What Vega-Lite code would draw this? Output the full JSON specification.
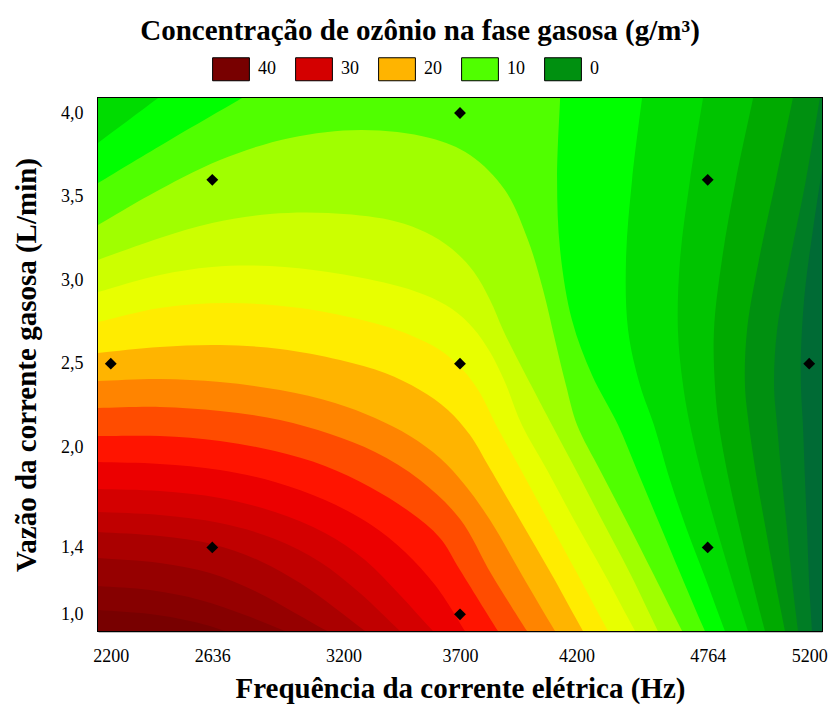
{
  "$schema": "https://vega.github.io/schema/vega-lite/v6.json",
  "width": 724,
  "height": 533,
  "autosize": {"type": "none"},
  "padding": {"left": 98, "top": 98, "right": 12, "bottom": 86},
  "background": "white",
  "title": {
    "text": "Concentração de ozônio na fase gasosa (g/m³)",
    "anchor": "middle",
    "frame": "group",
    "dx": -40,
    "offset": 11,
    "font": "Liberation Serif",
    "fontSize": 29,
    "fontWeight": "bold",
    "color": "black"
  },
  "encoding": {
    "x": {
      "field": "f",
      "type": "quantitative",
      "scale": {"domain": [2145, 5255], "nice": false, "zero": false},
      "axis": {
        "title": "Frequência da corrente elétrica (Hz)",
        "values": [2200, 2636, 3200, 3700, 4200, 4764, 5200],
        "format": "d",
        "labelFlush": false,
        "labelPadding": 21,
        "titlePadding": 9
      }
    },
    "y": {
      "field": "q",
      "type": "quantitative",
      "scale": {"domain": [0.9, 4.09], "nice": false, "zero": false},
      "axis": {
        "title": "Vazão da corrente gasosa (L/min)",
        "values": [1, 1.4, 2, 2.5, 3, 3.5, 4],
        "labelExpr": "replace(format(datum.value, '.1f'), '.', ',')",
        "labelPadding": 20,
        "titlePadding": 19
      }
    }
  },
  "layer": [
    {
      "data": {"values": [{"lab": "40"}, {"lab": "30"}, {"lab": "20"}, {"lab": "10"}, {"lab": "0"}]},
      "mark": {"type": "point", "shape": "square", "filled": true, "opacity": 0},
      "encoding": {
        "fill": {
          "field": "lab",
          "type": "ordinal",
          "scale": {"domain": ["40", "30", "20", "10", "0"], "range": ["#780000", "#d40000", "#ffb400", "#50ff00", "#009010"]},
          "legend": {
            "orient": "none",
            "legendX": 121,
            "legendY": -41,
            "direction": "horizontal",
            "title": null,
            "symbolType": "M-1.6,-1H1.6V1H-1.6Z",
            "symbolSize": 529,
            "symbolStrokeColor": "black",
            "symbolStrokeWidth": 1,
            "symbolOpacity": 1,
            "labelFont": "Liberation Serif",
            "labelFontSize": 18,
            "labelColor": "black",
            "labelOffset": 15,
            "columnPadding": 17,
            "padding": 0
          }
        }
      }
    },
    {
      "data": {"values": [
        {"c":"b00","i":0,"f":1939,"q":4.377},{"c":"b00","i":1,"f":5418,"q":4.377},{"c":"b00","i":2,"f":5418,"q":0.607},{"c":"b00","i":3,"f":1939,"q":0.607},
        {"c":"b01","i":0,"f":1939,"q":4.377},{"c":"b01","i":1,"f":5285,"q":4.377},{"c":"b01","i":2,"f":5285,"q":3.947},{"c":"b01","i":3,"f":5272,"q":3.803},{"c":"b01","i":4,"f":5255,"q":3.659},{"c":"b01","i":5,"f":5216,"q":3.3},{"c":"b01","i":6,"f":5182,"q":2.941},{"c":"b01","i":7,"f":5165,"q":2.582},{"c":"b01","i":8,"f":5165,"q":2.342},{"c":"b01","i":9,"f":5173,"q":2.133},{"c":"b01","i":10,"f":5182,"q":1.804},{"c":"b01","i":11,"f":5191,"q":1.505},{"c":"b01","i":12,"f":5199,"q":1.205},{"c":"b01","i":13,"f":5212,"q":0.9},{"c":"b01","i":14,"f":5218,"q":0.756},{"c":"b01","i":15,"f":5225,"q":0.607},{"c":"b01","i":16,"f":1939,"q":0.607},
        {"c":"b02","i":0,"f":1939,"q":4.377},{"c":"b02","i":1,"f":5281,"q":4.377},{"c":"b02","i":2,"f":5264,"q":4.234},{"c":"b02","i":3,"f":5246,"q":4.09},{"c":"b02","i":4,"f":5186,"q":3.599},{"c":"b02","i":5,"f":5117,"q":3.121},{"c":"b02","i":6,"f":5062,"q":2.702},{"c":"b02","i":7,"f":5049,"q":2.372},{"c":"b02","i":8,"f":5062,"q":2.133},{"c":"b02","i":9,"f":5083,"q":1.804},{"c":"b02","i":10,"f":5105,"q":1.505},{"c":"b02","i":11,"f":5126,"q":1.205},{"c":"b02","i":12,"f":5152,"q":0.9},{"c":"b02","i":13,"f":5165,"q":0.756},{"c":"b02","i":14,"f":5178,"q":0.607},{"c":"b02","i":15,"f":1939,"q":0.607},
        {"c":"b03","i":0,"f":1939,"q":4.377},{"c":"b03","i":1,"f":5173,"q":4.377},{"c":"b03","i":2,"f":5152,"q":4.234},{"c":"b03","i":3,"f":5130,"q":4.09},{"c":"b03","i":4,"f":5057,"q":3.599},{"c":"b03","i":5,"f":4984,"q":3.121},{"c":"b03","i":6,"f":4933,"q":2.702},{"c":"b03","i":7,"f":4924,"q":2.372},{"c":"b03","i":8,"f":4941,"q":2.133},{"c":"b03","i":9,"f":4976,"q":1.804},{"c":"b03","i":10,"f":5014,"q":1.505},{"c":"b03","i":11,"f":5053,"q":1.205},{"c":"b03","i":12,"f":5096,"q":0.9},{"c":"b03","i":13,"f":5117,"q":0.756},{"c":"b03","i":14,"f":5139,"q":0.607},{"c":"b03","i":15,"f":1939,"q":0.607},
        {"c":"b04","i":0,"f":1939,"q":4.377},{"c":"b04","i":1,"f":5002,"q":4.377},{"c":"b04","i":2,"f":4980,"q":4.234},{"c":"b04","i":3,"f":4959,"q":4.09},{"c":"b04","i":4,"f":4885,"q":3.599},{"c":"b04","i":5,"f":4825,"q":3.121},{"c":"b04","i":6,"f":4791,"q":2.702},{"c":"b04","i":7,"f":4795,"q":2.372},{"c":"b04","i":8,"f":4812,"q":2.133},{"c":"b04","i":9,"f":4855,"q":1.804},{"c":"b04","i":10,"f":4903,"q":1.505},{"c":"b04","i":11,"f":4954,"q":1.205},{"c":"b04","i":12,"f":5010,"q":0.9},{"c":"b04","i":13,"f":5038,"q":0.756},{"c":"b04","i":14,"f":5066,"q":0.607},{"c":"b04","i":15,"f":1939,"q":0.607},
        {"c":"b05","i":0,"f":1939,"q":4.377},{"c":"b05","i":1,"f":4778,"q":4.377},{"c":"b05","i":2,"f":4761,"q":4.234},{"c":"b05","i":3,"f":4744,"q":4.09},{"c":"b05","i":4,"f":4688,"q":3.599},{"c":"b05","i":5,"f":4645,"q":3.121},{"c":"b05","i":6,"f":4636,"q":2.702},{"c":"b05","i":7,"f":4658,"q":2.372},{"c":"b05","i":8,"f":4688,"q":2.133},{"c":"b05","i":9,"f":4744,"q":1.804},{"c":"b05","i":10,"f":4804,"q":1.505},{"c":"b05","i":11,"f":4868,"q":1.205},{"c":"b05","i":12,"f":4937,"q":0.9},{"c":"b05","i":13,"f":4971,"q":0.756},{"c":"b05","i":14,"f":5006,"q":0.607},{"c":"b05","i":15,"f":1939,"q":0.607},
        {"c":"b06","i":0,"f":2025,"q":3.695},{"c":"b06","i":1,"f":2145,"q":3.821},{"c":"b06","i":2,"f":2403,"q":4.09},{"c":"b06","i":3,"f":2540,"q":4.234},{"c":"b06","i":4,"f":2678,"q":4.377},{"c":"b06","i":5,"f":4508,"q":4.377},{"c":"b06","i":6,"f":4495,"q":4.234},{"c":"b06","i":7,"f":4482,"q":4.09},{"c":"b06","i":8,"f":4439,"q":3.599},{"c":"b06","i":9,"f":4413,"q":3.121},{"c":"b06","i":10,"f":4422,"q":2.702},{"c":"b06","i":11,"f":4473,"q":2.372},{"c":"b06","i":12,"f":4533,"q":2.133},{"c":"b06","i":13,"f":4602,"q":1.804},{"c":"b06","i":14,"f":4675,"q":1.505},{"c":"b06","i":15,"f":4757,"q":1.205},{"c":"b06","i":16,"f":4838,"q":0.9},{"c":"b06","i":17,"f":4879,"q":0.756},{"c":"b06","i":18,"f":4920,"q":0.607},{"c":"b06","i":19,"f":1939,"q":0.607},
        {"c":"b07","i":0,"f":2025,"q":3.48},{"c":"b07","i":1,"f":2145,"q":3.581},{"c":"b07","i":2,"f":2454,"q":3.839},{"c":"b07","i":3,"f":2764,"q":4.09},{"c":"b07","i":4,"f":2940,"q":4.234},{"c":"b07","i":5,"f":3116,"q":4.377},{"c":"b07","i":6,"f":4138,"q":4.377},{"c":"b07","i":7,"f":4134,"q":4.234},{"c":"b07","i":8,"f":4130,"q":4.09},{"c":"b07","i":9,"f":4117,"q":3.599},{"c":"b07","i":10,"f":4130,"q":3.18},{"c":"b07","i":11,"f":4181,"q":2.761},{"c":"b07","i":12,"f":4267,"q":2.432},{"c":"b07","i":13,"f":4379,"q":2.133},{"c":"b07","i":14,"f":4460,"q":1.864},{"c":"b07","i":15,"f":4550,"q":1.564},{"c":"b07","i":16,"f":4649,"q":1.235},{"c":"b07","i":17,"f":4752,"q":0.9},{"c":"b07","i":18,"f":4800,"q":0.756},{"c":"b07","i":19,"f":4847,"q":0.607},{"c":"b07","i":20,"f":1939,"q":0.607},
        {"c":"b08","i":0,"f":2025,"q":3.234},{"c":"b08","i":1,"f":2145,"q":3.33},{"c":"b08","i":2,"f":2368,"q":3.51},{"c":"b08","i":3,"f":2669,"q":3.719},{"c":"b08","i":4,"f":2970,"q":3.851},{"c":"b08","i":5,"f":3279,"q":3.899},{"c":"b08","i":6,"f":3571,"q":3.851},{"c":"b08","i":7,"f":3743,"q":3.749},{"c":"b08","i":8,"f":3893,"q":3.539},{"c":"b08","i":9,"f":3992,"q":3.24},{"c":"b08","i":10,"f":4057,"q":2.941},{"c":"b08","i":11,"f":4108,"q":2.642},{"c":"b08","i":12,"f":4155,"q":2.372},{"c":"b08","i":13,"f":4203,"q":2.133},{"c":"b08","i":14,"f":4301,"q":1.864},{"c":"b08","i":15,"f":4413,"q":1.564},{"c":"b08","i":16,"f":4533,"q":1.235},{"c":"b08","i":17,"f":4654,"q":0.9},{"c":"b08","i":18,"f":4709,"q":0.756},{"c":"b08","i":19,"f":4761,"q":0.607},{"c":"b08","i":20,"f":1939,"q":0.607},
        {"c":"b09","i":0,"f":2025,"q":3.061},{"c":"b09","i":1,"f":2145,"q":3.121},{"c":"b09","i":2,"f":2411,"q":3.252},{"c":"b09","i":3,"f":2635,"q":3.342},{"c":"b09","i":4,"f":2884,"q":3.396},{"c":"b09","i":5,"f":3133,"q":3.402},{"c":"b09","i":6,"f":3399,"q":3.36},{"c":"b09","i":7,"f":3550,"q":3.288},{"c":"b09","i":8,"f":3666,"q":3.186},{"c":"b09","i":9,"f":3760,"q":3.049},{"c":"b09","i":10,"f":3829,"q":2.881},{"c":"b09","i":11,"f":3885,"q":2.702},{"c":"b09","i":12,"f":3949,"q":2.522},{"c":"b09","i":13,"f":4005,"q":2.372},{"c":"b09","i":14,"f":4095,"q":2.133},{"c":"b09","i":15,"f":4198,"q":1.864},{"c":"b09","i":16,"f":4310,"q":1.564},{"c":"b09","i":17,"f":4434,"q":1.235},{"c":"b09","i":18,"f":4550,"q":0.9},{"c":"b09","i":19,"f":4602,"q":0.756},{"c":"b09","i":20,"f":4658,"q":0.607},{"c":"b09","i":21,"f":1939,"q":0.607},
        {"c":"b10","i":0,"f":2025,"q":2.881},{"c":"b10","i":1,"f":2145,"q":2.929},{"c":"b10","i":2,"f":2411,"q":3.031},{"c":"b10","i":3,"f":2635,"q":3.079},{"c":"b10","i":4,"f":2884,"q":3.085},{"c":"b10","i":5,"f":3133,"q":3.049},{"c":"b10","i":6,"f":3399,"q":2.977},{"c":"b10","i":7,"f":3550,"q":2.911},{"c":"b10","i":8,"f":3666,"q":2.827},{"c":"b10","i":9,"f":3756,"q":2.714},{"c":"b10","i":10,"f":3829,"q":2.57},{"c":"b10","i":11,"f":3893,"q":2.39},{"c":"b10","i":12,"f":3966,"q":2.133},{"c":"b10","i":13,"f":4074,"q":1.864},{"c":"b10","i":14,"f":4190,"q":1.564},{"c":"b10","i":15,"f":4323,"q":1.235},{"c":"b10","i":16,"f":4452,"q":0.9},{"c":"b10","i":17,"f":4512,"q":0.756},{"c":"b10","i":18,"f":4568,"q":0.607},{"c":"b10","i":19,"f":1939,"q":0.607},
        {"c":"b11","i":0,"f":2025,"q":2.714},{"c":"b11","i":1,"f":2145,"q":2.749},{"c":"b11","i":2,"f":2411,"q":2.833},{"c":"b11","i":3,"f":2703,"q":2.863},{"c":"b11","i":4,"f":3013,"q":2.833},{"c":"b11","i":5,"f":3313,"q":2.749},{"c":"b11","i":6,"f":3485,"q":2.672},{"c":"b11","i":7,"f":3614,"q":2.582},{"c":"b11","i":8,"f":3713,"q":2.462},{"c":"b11","i":9,"f":3786,"q":2.325},{"c":"b11","i":10,"f":3855,"q":2.133},{"c":"b11","i":11,"f":3962,"q":1.864},{"c":"b11","i":12,"f":4078,"q":1.564},{"c":"b11","i":13,"f":4207,"q":1.235},{"c":"b11","i":14,"f":4336,"q":0.9},{"c":"b11","i":15,"f":4396,"q":0.756},{"c":"b11","i":16,"f":4452,"q":0.607},{"c":"b11","i":17,"f":1939,"q":0.607},
        {"c":"b12","i":0,"f":2025,"q":2.546},{"c":"b12","i":1,"f":2145,"q":2.564},{"c":"b12","i":2,"f":2411,"q":2.6},{"c":"b12","i":3,"f":2669,"q":2.612},{"c":"b12","i":4,"f":2927,"q":2.588},{"c":"b12","i":5,"f":3185,"q":2.522},{"c":"b12","i":6,"f":3378,"q":2.444},{"c":"b12","i":7,"f":3528,"q":2.342},{"c":"b12","i":8,"f":3648,"q":2.223},{"c":"b12","i":9,"f":3743,"q":2.073},{"c":"b12","i":10,"f":3820,"q":1.894},{"c":"b12","i":11,"f":3958,"q":1.564},{"c":"b12","i":12,"f":4095,"q":1.235},{"c":"b12","i":13,"f":4228,"q":0.9},{"c":"b12","i":14,"f":4288,"q":0.756},{"c":"b12","i":15,"f":4349,"q":0.607},{"c":"b12","i":16,"f":1939,"q":0.607},
        {"c":"b13","i":0,"f":2025,"q":2.39},{"c":"b13","i":1,"f":2145,"q":2.396},{"c":"b13","i":2,"f":2411,"q":2.408},{"c":"b13","i":3,"f":2669,"q":2.39},{"c":"b13","i":4,"f":2927,"q":2.342},{"c":"b13","i":5,"f":3163,"q":2.265},{"c":"b13","i":6,"f":3335,"q":2.175},{"c":"b13","i":7,"f":3485,"q":2.067},{"c":"b13","i":8,"f":3614,"q":1.935},{"c":"b13","i":9,"f":3721,"q":1.774},{"c":"b13","i":10,"f":3829,"q":1.564},{"c":"b13","i":11,"f":3966,"q":1.235},{"c":"b13","i":12,"f":4108,"q":0.9},{"c":"b13","i":13,"f":4172,"q":0.756},{"c":"b13","i":14,"f":4237,"q":0.607},{"c":"b13","i":15,"f":1939,"q":0.607},
        {"c":"b14","i":0,"f":2025,"q":2.235},{"c":"b14","i":1,"f":2145,"q":2.235},{"c":"b14","i":2,"f":2411,"q":2.241},{"c":"b14","i":3,"f":2669,"q":2.217},{"c":"b14","i":4,"f":2927,"q":2.163},{"c":"b14","i":5,"f":3142,"q":2.079},{"c":"b14","i":6,"f":3335,"q":1.971},{"c":"b14","i":7,"f":3528,"q":1.804},{"c":"b14","i":8,"f":3700,"q":1.57},{"c":"b14","i":9,"f":3837,"q":1.235},{"c":"b14","i":10,"f":3988,"q":0.9},{"c":"b14","i":11,"f":4057,"q":0.756},{"c":"b14","i":12,"f":4125,"q":0.607},{"c":"b14","i":13,"f":1939,"q":0.607},
        {"c":"b15","i":0,"f":2025,"q":2.067},{"c":"b15","i":1,"f":2145,"q":2.067},{"c":"b15","i":2,"f":2411,"q":2.067},{"c":"b15","i":3,"f":2669,"q":2.037},{"c":"b15","i":4,"f":2905,"q":1.977},{"c":"b15","i":5,"f":3120,"q":1.888},{"c":"b15","i":6,"f":3313,"q":1.762},{"c":"b15","i":7,"f":3485,"q":1.612},{"c":"b15","i":8,"f":3614,"q":1.457},{"c":"b15","i":9,"f":3700,"q":1.265},{"c":"b15","i":10,"f":3863,"q":0.9},{"c":"b15","i":11,"f":3932,"q":0.756},{"c":"b15","i":12,"f":4001,"q":0.607},{"c":"b15","i":13,"f":1939,"q":0.607},
        {"c":"b16","i":0,"f":2025,"q":1.917},{"c":"b16","i":1,"f":2145,"q":1.911},{"c":"b16","i":2,"f":2411,"q":1.9},{"c":"b16","i":3,"f":2669,"q":1.864},{"c":"b16","i":4,"f":2905,"q":1.792},{"c":"b16","i":5,"f":3120,"q":1.684},{"c":"b16","i":6,"f":3313,"q":1.54},{"c":"b16","i":7,"f":3464,"q":1.373},{"c":"b16","i":8,"f":3593,"q":1.175},{"c":"b16","i":9,"f":3679,"q":0.996},{"c":"b16","i":10,"f":3721,"q":0.9},{"c":"b16","i":11,"f":3794,"q":0.756},{"c":"b16","i":12,"f":3863,"q":0.607},{"c":"b16","i":13,"f":1939,"q":0.607},
        {"c":"b17","i":0,"f":2025,"q":1.756},{"c":"b17","i":1,"f":2145,"q":1.75},{"c":"b17","i":2,"f":2411,"q":1.738},{"c":"b17","i":3,"f":2669,"q":1.696},{"c":"b17","i":4,"f":2905,"q":1.612},{"c":"b17","i":5,"f":3120,"q":1.487},{"c":"b17","i":6,"f":3292,"q":1.325},{"c":"b17","i":7,"f":3442,"q":1.115},{"c":"b17","i":8,"f":3584,"q":0.9},{"c":"b17","i":9,"f":3687,"q":0.756},{"c":"b17","i":10,"f":3786,"q":0.607},{"c":"b17","i":11,"f":1939,"q":0.607},
        {"c":"b18","i":0,"f":2025,"q":1.618},{"c":"b18","i":1,"f":2145,"q":1.612},{"c":"b18","i":2,"f":2411,"q":1.594},{"c":"b18","i":3,"f":2669,"q":1.546},{"c":"b18","i":4,"f":2905,"q":1.451},{"c":"b18","i":5,"f":3099,"q":1.313},{"c":"b18","i":6,"f":3270,"q":1.127},{"c":"b18","i":7,"f":3442,"q":0.9},{"c":"b18","i":8,"f":3558,"q":0.756},{"c":"b18","i":9,"f":3674,"q":0.607},{"c":"b18","i":10,"f":1939,"q":0.607},
        {"c":"b19","i":0,"f":2025,"q":1.505},{"c":"b19","i":1,"f":2145,"q":1.493},{"c":"b19","i":2,"f":2411,"q":1.469},{"c":"b19","i":3,"f":2635,"q":1.421},{"c":"b19","i":4,"f":2841,"q":1.319},{"c":"b19","i":5,"f":3013,"q":1.187},{"c":"b19","i":6,"f":3163,"q":1.038},{"c":"b19","i":7,"f":3292,"q":0.9},{"c":"b19","i":8,"f":3438,"q":0.756},{"c":"b19","i":9,"f":3584,"q":0.607},{"c":"b19","i":10,"f":1939,"q":0.607},
        {"c":"b20","i":0,"f":2025,"q":1.349},{"c":"b20","i":1,"f":2145,"q":1.337},{"c":"b20","i":2,"f":2411,"q":1.307},{"c":"b20","i":3,"f":2626,"q":1.247},{"c":"b20","i":4,"f":2819,"q":1.139},{"c":"b20","i":5,"f":2991,"q":1.008},{"c":"b20","i":6,"f":3129,"q":0.9},{"c":"b20","i":7,"f":3331,"q":0.756},{"c":"b20","i":8,"f":3532,"q":0.607},{"c":"b20","i":9,"f":1939,"q":0.607},
        {"c":"b21","i":0,"f":2025,"q":1.181},{"c":"b21","i":1,"f":2145,"q":1.169},{"c":"b21","i":2,"f":2368,"q":1.145},{"c":"b21","i":3,"f":2583,"q":1.086},{"c":"b21","i":4,"f":2776,"q":0.996},{"c":"b21","i":5,"f":2948,"q":0.9},{"c":"b21","i":6,"f":3185,"q":0.756},{"c":"b21","i":7,"f":3399,"q":0.607},{"c":"b21","i":8,"f":1939,"q":0.607},
        {"c":"b22","i":0,"f":2025,"q":1.038},{"c":"b22","i":1,"f":2145,"q":1.026},{"c":"b22","i":2,"f":2368,"q":1.002},{"c":"b22","i":3,"f":2540,"q":0.96},{"c":"b22","i":4,"f":2691,"q":0.9},{"c":"b22","i":5,"f":2927,"q":0.756},{"c":"b22","i":6,"f":3099,"q":0.607},{"c":"b22","i":7,"f":1939,"q":0.607}
      ]},
      "mark": {"type": "line", "filled": true, "strokeWidth": 0, "clip": true, "interpolate": "catmull-rom"},
      "encoding": {
        "order": {"field": "i", "type": "quantitative"},
        "color": {
          "field": "c",
          "type": "nominal",
          "scale": {
            "domain": ["b00","b01","b02","b03","b04","b05","b06","b07","b08","b09","b10","b11","b12","b13","b14","b15","b16","b17","b18","b19","b20","b21","b22"],
            "range": ["#006b35","#007d25","#009010","#00aa00","#00c400","#00dc00","#00ff00","#50ff00","#a0ff00","#ccff00","#e8ff00","#ffec00","#ffb400","#ff8400","#ff4c00","#ff1400","#ec0000","#d40000","#c00000","#aa0000","#960000","#860000","#780000"]
          },
          "legend": null
        }
      }
    },
    {
      "data": {"values": [
        {"f": 2200, "q": 2.5}, {"f": 2636, "q": 1.4}, {"f": 2636, "q": 3.6},
        {"f": 3700, "q": 1.0}, {"f": 3700, "q": 2.5}, {"f": 3700, "q": 4.0},
        {"f": 4764, "q": 1.4}, {"f": 4764, "q": 3.6}, {"f": 5200, "q": 2.5}
      ]},
      "mark": {"type": "point", "shape": "diamond", "filled": true, "color": "black", "size": 140, "opacity": 1}
    }
  ],
  "config": {
    "view": {"stroke": "black", "strokeWidth": 2, "fill": "#006b35"},
    "axis": {
      "grid": false,
      "labelFont": "Liberation Serif",
      "labelFontSize": 18,
      "labelColor": "black",
      "titleFont": "Liberation Serif",
      "titleFontSize": 29,
      "titleFontWeight": "bold",
      "titleColor": "black",
      "domainColor": "black",
      "domainWidth": 1.5,
      "tickColor": "black",
      "tickWidth": 1.5,
      "tickSize": -5,
      "zindex": 1
    }
  }
}
